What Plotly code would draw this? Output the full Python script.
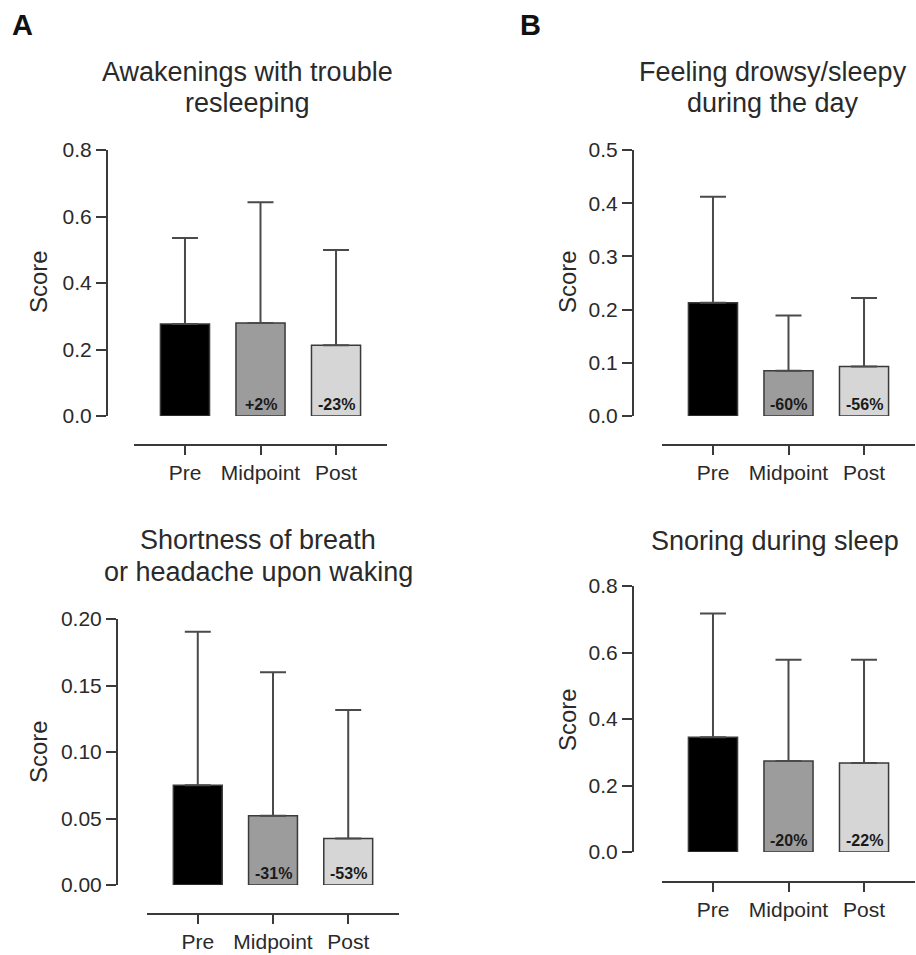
import plotly.graph_objects as go

# ---------------- data ----------------
categories = ["Pre", "Midpoint", "Post"]

awak_mean = [0.277, 0.280, 0.213]
awak_sd = [0.258, 0.363, 0.286]
awak_pct = ["", "+2%", "-23%"]

drowsy_mean = [0.213, 0.085, 0.093]
drowsy_sd = [0.199, 0.104, 0.129]
drowsy_pct = ["", "-60%", "-56%"]

breath_mean = [0.075, 0.052, 0.035]
breath_sd = [0.1155, 0.108, 0.0966]
breath_pct = ["", "-31%", "-53%"]

snore_mean = [0.345, 0.274, 0.268]
snore_sd = [0.372, 0.304, 0.310]
snore_pct = ["", "-20%", "-22%"]

titles = [
    ["Awakenings with trouble", "resleeping"],
    ["Feeling drowsy/sleepy", "during the day"],
    ["Shortness of breath", "or headache upon waking"],
    ["Snoring during sleep"],
]
y_ranges = [[0, 0.8], [0, 0.5], [0, 0.20], [0, 0.8]]
y_ticks = [[0, 0.2, 0.4, 0.6, 0.8], [0, 0.1, 0.2, 0.3, 0.4, 0.5],
           [0, 0.05, 0.10, 0.15, 0.20], [0, 0.2, 0.4, 0.6, 0.8]]
y_fmt = [".1f", ".1f", ".2f", ".1f"]

# ---------------- layout helpers ----------------
W, H = 916, 955
def fx(px):
    return px / W
def fy(py):
    return 1 - py / H

FONT = "Liberation Sans, Arial, Helvetica, sans-serif"
TXT = "#2a2a2a"
AX = "#3a3a3a"
colors = ["#000000", "#9c9c9c", "#d6d6d6"]

# panel geometry in pixels: x-domain, y top, y bottom, y-axis x, x-axis y,
# title center x, title line centre ys, score label x, score label y
panels = [
    dict(xd=(134, 387), yt=150, yb=416, yax=107, xax=445, tx=247, ty=(72, 103), sx=38, sy=282),
    dict(xd=(662, 915), yt=150, yb=416, yax=633, xax=445, tx=773, ty=(72, 103), sx=567, sy=282),
    dict(xd=(147, 399), yt=619, yb=885, yax=117, xax=914, tx=258, ty=(540, 572), sx=38, sy=752),
    dict(xd=(662, 915), yt=586, yb=852, yax=633, xax=882, tx=775, ty=(541,), sx=567, sy=720),
]

series = [
    (awak_mean, awak_sd, awak_pct),
    (drowsy_mean, drowsy_sd, drowsy_pct),
    (breath_mean, breath_sd, breath_pct),
    (snore_mean, snore_sd, snore_pct),
]

fig = go.Figure()
annotations = []
layout_axes = {}

for i, (p, (mean, sd, pct)) in enumerate(zip(panels, series)):
    n = "" if i == 0 else str(i + 1)
    xref, yref = "x" + n, "y" + n
    fig.add_trace(go.Bar(
        x=categories, y=mean, xaxis=xref, yaxis=yref, width=0.65,
        marker=dict(color=colors, line=dict(color=AX, width=1.5)),
        error_y=dict(type="data", array=sd, arrayminus=[0] * len(sd),
                     symmetric=False, color="#4a4a4a", thickness=2, width=13),
        showlegend=False, hoverinfo="skip",
    ))
    layout_axes["xaxis" + n] = dict(
        domain=[fx(p["xd"][0]), fx(p["xd"][1])], anchor="free",
        position=fy(p["xax"]), range=[-0.675, 2.675], type="category",
        showline=True, linecolor=AX, linewidth=2, ticks="outside",
        ticklen=9, tickwidth=2, tickcolor=AX, showgrid=False,
        zeroline=False, tickfont=dict(family=FONT, size=21, color=TXT),
        fixedrange=True, automargin=False,
    )
    layout_axes["yaxis" + n] = dict(
        domain=[fy(p["yb"]), fy(p["yt"])], anchor="free",
        position=fx(p["yax"]), range=y_ranges[i], tickvals=y_ticks[i],
        tickformat=y_fmt[i], showline=True, linecolor=AX, linewidth=2,
        ticks="outside", ticklen=10, tickwidth=2, tickcolor=AX,
        showgrid=False, zeroline=False,
        tickfont=dict(family=FONT, size=21, color=TXT), fixedrange=True,
        automargin=False,
    )
    # percent change labels
    for c, t in zip(categories, pct):
        if t:
            annotations.append(dict(
                x=c, y=0, xref=xref, yref=yref, text="<b>" + t + "</b>",
                showarrow=False, yanchor="bottom", yshift=1,
                font=dict(family=FONT, size=16, color="#1a1a1a"),
            ))
    # panel title, one annotation per line
    for line, ly in zip(titles[i], p["ty"]):
        annotations.append(dict(
            x=fx(p["tx"]), y=fy(ly), xref="paper", yref="paper",
            text=line, showarrow=False, xanchor="center", yanchor="middle",
            font=dict(family=FONT, size=27, color=TXT),
        ))
    # y axis title
    annotations.append(dict(
        x=fx(p["sx"]), y=fy(p["sy"]), xref="paper", yref="paper",
        text="Score", showarrow=False, textangle=-90,
        xanchor="center", yanchor="middle",
        font=dict(family=FONT, size=24, color=TXT),
    ))

# panel letters
for letter, lx in (("A", 22), ("B", 530)):
    annotations.append(dict(
        x=fx(lx), y=fy(25), xref="paper", yref="paper",
        text="<b>" + letter + "</b>", showarrow=False,
        xanchor="center", yanchor="middle",
        font=dict(family=FONT, size=29, color="#111111"),
    ))

fig.update_layout(
    width=W, height=H, margin=dict(l=0, r=0, t=0, b=0, autoexpand=False),
    paper_bgcolor="white", plot_bgcolor="white", autosize=False,
    annotations=annotations, bargap=0.35, showlegend=False, **layout_axes,
)

fig.write_html("out.html")
